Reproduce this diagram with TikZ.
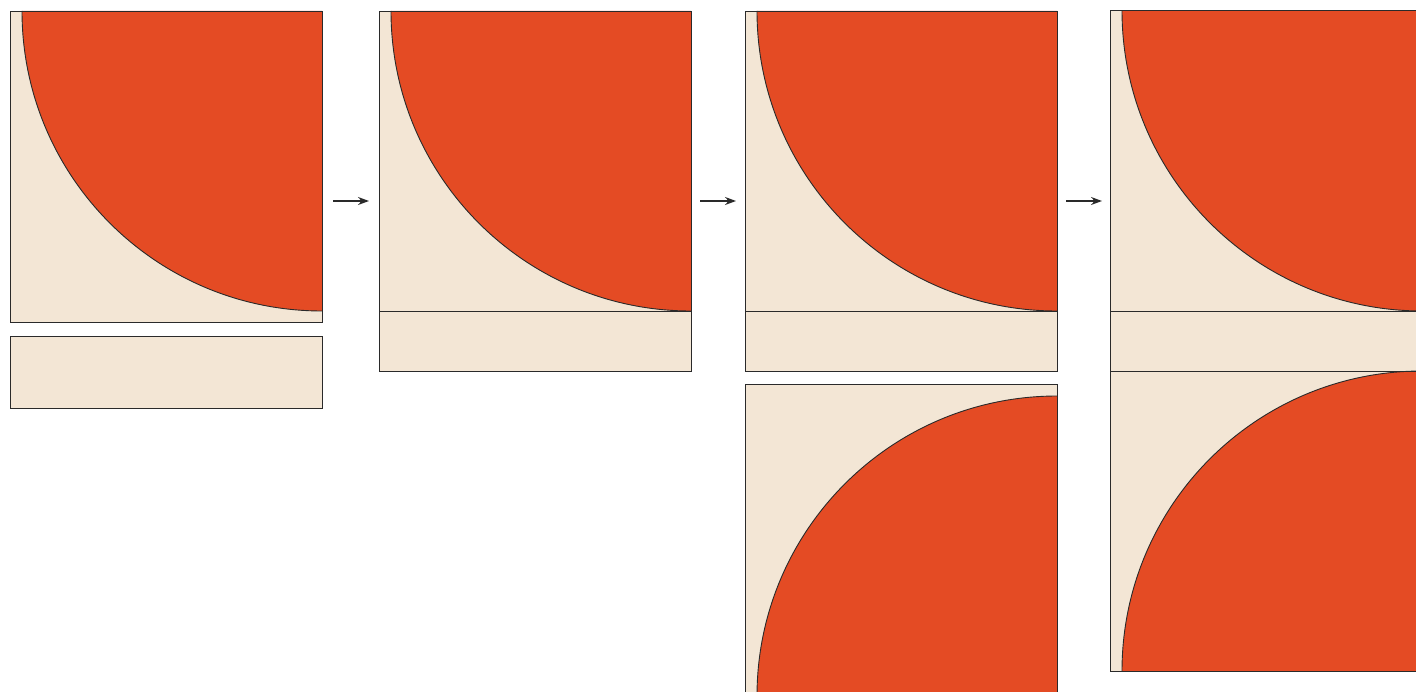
\documentclass[tikz,border=0pt]{standalone}
\usetikzlibrary{arrows.meta}
\definecolor{tilebg}{HTML}{F3E6D5}
\definecolor{quarter}{HTML}{E44B24}
\definecolor{edgec}{HTML}{2A2A2A}
\begin{document}
\begin{tikzpicture}[x=1pt,y=-1pt,
  tile/.style={fill=tilebg,draw=edgec,line width=0.9pt},
  redfill/.style={fill=quarter},
  rim/.style={draw=edgec,line width=0.9pt},
  flow/.style={draw=edgec,line width=1.3pt,-{Stealth[length=11pt,width=8pt]}}]
\useasboundingbox (0,0) rectangle (1416,692);
\clip (0,0) rectangle (1416,692);

% ---- panel 1
\path[tile] (10,11) rectangle (322,322);
\fill[redfill] (22,11) arc[start angle=180,end angle=90,radius=300] -- (322,11) -- cycle;
\draw[rim] (22,11) arc[start angle=180,end angle=90,radius=300];
\draw[rim] (10,11) rectangle (322,322);
\path[tile] (10,336) rectangle (322,408);

% ---- panel 2
\path[tile] (379,11) rectangle (691,371);
\fill[redfill] (391,11) arc[start angle=180,end angle=90,radius=300] -- (691,11) -- cycle;
\draw[rim] (391,11) arc[start angle=180,end angle=90,radius=300];
\draw[rim] (379,311) -- (691,311);
\draw[rim] (379,11) rectangle (691,371);

% ---- panel 3
\path[tile] (745,11) rectangle (1057,371);
\fill[redfill] (757,11) arc[start angle=180,end angle=90,radius=300] -- (1057,11) -- cycle;
\draw[rim] (757,11) arc[start angle=180,end angle=90,radius=300];
\draw[rim] (745,311) -- (1057,311);
\draw[rim] (745,11) rectangle (1057,371);

\path[tile] (745,384) rectangle (1057,696);
\fill[redfill] (757,696) arc[start angle=180,end angle=270,radius=300] -- (1057,696) -- cycle;
\draw[rim] (757,696) arc[start angle=180,end angle=270,radius=300];
\draw[rim] (745,384) rectangle (1057,696);

% ---- panel 4
\path[tile] (1110,10.5) rectangle (1422,671);
\fill[redfill] (1122,10.5) arc[start angle=180,end angle=90,radius=300.5] -- (1422,10.5) -- cycle;
\draw[rim] (1122,10.5) arc[start angle=180,end angle=90,radius=300.5];
\fill[redfill] (1122,671) arc[start angle=180,end angle=270,radius=300] -- (1422,671) -- cycle;
\draw[rim] (1122,671) arc[start angle=180,end angle=270,radius=300];
\draw[rim] (1110,311) -- (1422,311);
\draw[rim] (1110,371) -- (1422,371);
\draw[rim] (1110,10.5) rectangle (1422,671);

% ---- arrows
\coordinate (a1s) at (333,201); \coordinate (a1e) at (369,201);
\coordinate (a2s) at (700,201); \coordinate (a2e) at (736,201);
\coordinate (a3s) at (1066,201); \coordinate (a3e) at (1102,201);
\draw[flow] (a1s) -- (a1e);
\draw[flow] (a2s) -- (a2e);
\draw[flow] (a3s) -- (a3e);
\end{tikzpicture}
\end{document}
